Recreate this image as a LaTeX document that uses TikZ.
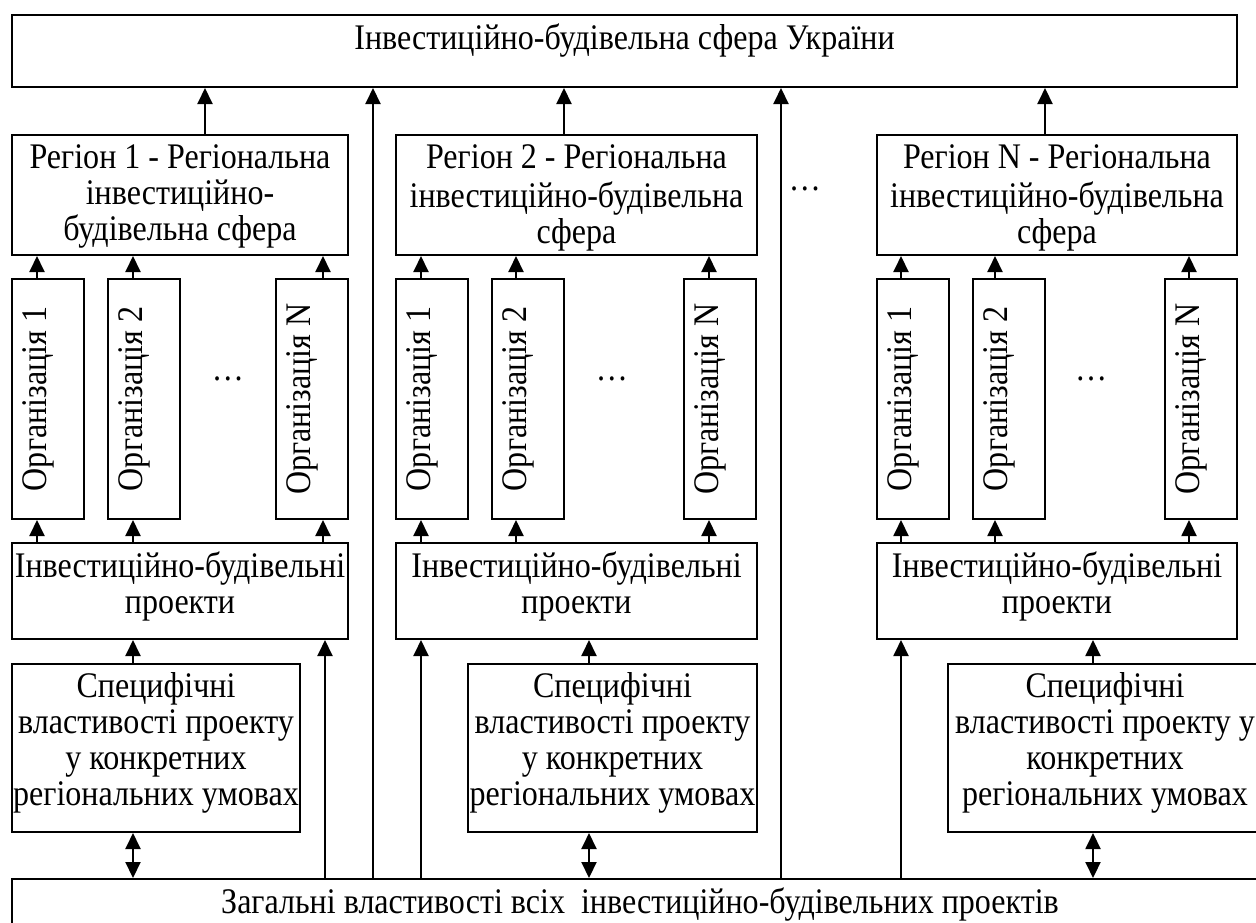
\documentclass[tikz,border=0pt]{standalone}
\usepackage{fontspec}
\setmainfont[FakeStretch=0.89]{Liberation Serif}
\usetikzlibrary{arrows.meta,fit}
\begin{document}
\begin{tikzpicture}[x=0.5pt,y=-0.5pt,
  box/.style={draw, line width=1pt, inner sep=0pt},
  lbl/.style={font=\fontsize{18}{18}\selectfont, align=center, inner sep=0pt, anchor=north},
  vlbl/.style={font=\fontsize{18}{18}\selectfont, inner sep=0pt, rotate=90, anchor=base},
  dots/.style={font=\fontsize{18}{18}\selectfont, inner sep=0pt, anchor=base},
  tip/.tip={Triangle[width=7.5pt,length=8pt]},
  arr/.style={line width=1pt, -tip},
  darr/.style={line width=1pt, tip-tip}]
\useasboundingbox (0,0) rectangle (1256,922);

% rectangle node spanning two corners (pixel grid), with top-aligned caption
\newcommand\blk[6]{%
  \node[box, fit={(#2,#3) (#4,#5)}] (#1) {};
  \node[lbl] (#1-t) at ([yshift=-4.5pt]#1.north) {\strut #6};}
% narrow box with rotated caption
\newcommand\org[3]{%
  \node[box, fit={(#2,279) (#2+72,519)}] (#1) {};
  \node[vlbl] (#1-t) at (#2+34,399) {#3};}

% top level
\blk{top}{12}{15}{1237}{87}{Інвестиційно-будівельна сфера України}

% regions
\blk{r1}{12}{135}{348}{255}{Регіон 1 - Регіональна\\інвестиційно-\\будівельна сфера}
\blk{r2}{396}{135}{757}{255}{Регіон 2 - Регіональна\\інвестиційно-будівельна\\сфера}
\blk{rN}{877}{135}{1237}{255}{Регіон N - Регіональна\\інвестиційно-будівельна\\сфера}
\node[dots] (rdots) at (805,190) {…};

% organisations
\org{o11}{12}{Організація 1}
\org{o12}{108}{Організація 2}
\org{o1N}{276}{Організація N}
\org{o21}{396}{Організація 1}
\org{o22}{492}{Організація 2}
\org{o2N}{684}{Організація N}
\org{oN1}{877}{Організація 1}
\org{oN2}{973}{Організація 2}
\org{oNN}{1165}{Організація N}
\node[dots] (d1) at (228,380) {…};
\node[dots] (d2) at (612,380) {…};
\node[dots] (d3) at (1091,380) {…};

% projects
\blk{p1}{12}{543}{348}{639}{Інвестиційно-будівельні\\проекти}
\blk{p2}{396}{543}{757}{639}{Інвестиційно-будівельні\\проекти}
\blk{pN}{877}{543}{1237}{639}{Інвестиційно-будівельні\\проекти}

% specific properties
\blk{s1}{12}{664}{300}{832}{Специфічні\\властивості проекту\\у конкретних\\регіональних умовах}
\blk{s2}{468}{664}{757}{832}{Специфічні\\властивості проекту\\у конкретних\\регіональних умовах}
\blk{sN}{948}{664}{1262}{832}{Специфічні\\властивості проекту у\\конкретних\\регіональних умовах}

% common properties
\blk{bot}{12}{879}{1268}{960}{Загальні властивості всіх~ інвестиційно-будівельних проектів}

% connectors
\foreach \x/\a/\b in {205/r1/top,564/r2/top,1045/rN/top,
    37/o11/r1,133/o12/r1,323/o1N/r1,
    421/o21/r2,516/o22/r2,709/o2N/r2,
    901/oN1/rN,995/oN2/rN,1189/oNN/rN,
    37/p1/o11,133/p1/o12,323/p1/o1N,
    421/p2/o21,516/p2/o22,709/p2/o2N,
    901/pN/oN1,995/pN/oN2,1189/pN/oNN,
    133/s1/p1,589/s2/p2,1093/sN/pN,
    325/bot/p1,421/bot/p2,901/bot/pN,
    373/bot/top,781/bot/top}{
  \coordinate (cx) at (\x,0);
  \draw[arr] (\a.north -| cx) -- (\b.south -| cx);}
\foreach \x/\a in {133/s1,589/s2,1093/sN}{
  \coordinate (cx) at (\x,0);
  \draw[darr] (\a.south -| cx) -- (bot.north -| cx);}
\end{tikzpicture}
\end{document}
